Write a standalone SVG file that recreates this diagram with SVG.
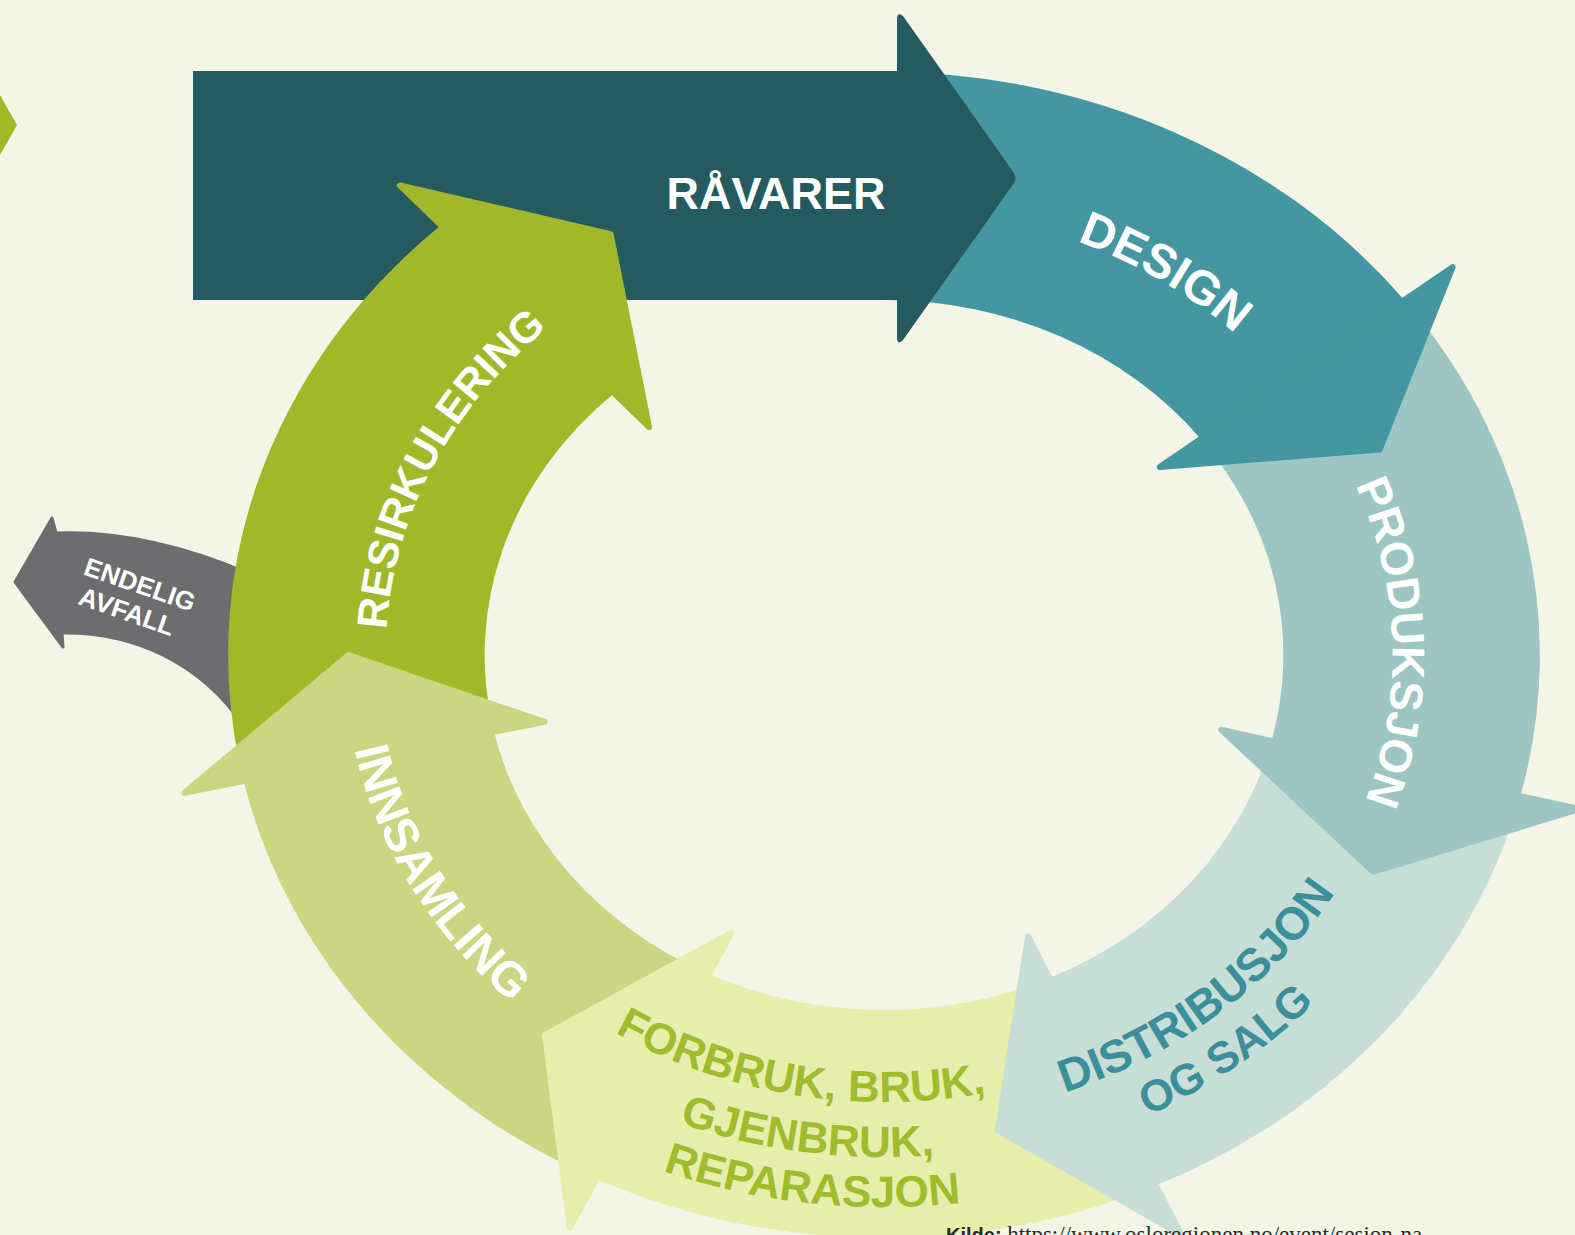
<svg xmlns="http://www.w3.org/2000/svg" width="1575" height="1235" viewBox="0 0 1575 1235">
<defs>
<style>
.lbl{font-family:'Liberation Sans',Arial,sans-serif;font-weight:700;}
.w{fill:#ffffff}
.hd{stroke-linejoin:round;stroke-width:6;vector-effect:non-scaling-stroke}
</style>
<path id="pDes" d="M651.3,257.6 A504,448 0 0 1 1387.5,674.5"/>
<path id="pPro" d="M1126.6,257.8 A508.5,452 0 0 1 1149.7,1040.4"/>
<path id="pRes" d="M472.8,905.3 A498.4,443 0 0 1 845.8,213.3"/>
<path id="pInn" d="M421.1,407.8 A540,480 0 0 0 874.6,1134.9"/>
<path id="pFor1" d="M410.2,804.9 A502.9,447 0 0 0 1267,944.7"/>
<path id="pFor2" d="M360,842.3 A564.75,502 0 0 0 1328.4,964.8"/>
<path id="pFor3" d="M313.2,872.5 A621,552 0 0 0 1381.3,985.7"/>
<path id="pDis1" d="M702.1,1092.1 A524.25,466 0 0 0 1400.8,576.5"/>
<path id="pDis2" d="M665.2,1134 A581.6,517 0 0 0 1460.1,583.9"/>
</defs>
<rect width="1575" height="1235" fill="#f3f6e7"/>

<g id="connectors">
<polygon points="0,95 17,125 0,155" fill="#a1b928"/>
</g>

<g id="endelig-avfall">
<path d="M245,572 C190,548 120,530 56,533 L52,518 L15,582 L63,647 L62,633 C130,632 200,660 245,728 Z" fill="#6d6d6f" stroke="#6d6d6f" stroke-width="3" stroke-linejoin="round"/>
<text class="lbl w" font-size="26" transform="translate(137,593) rotate(19)" text-anchor="middle">ENDELIG</text>
<text class="lbl w" font-size="26" transform="translate(124,620) rotate(19)" text-anchor="middle">AVFALL</text>
</g>

<g id="forbruk">
<g transform="translate(884,655) scale(1.125,1)" fill="#e7eeac">
<path d="M241.8,530.5 A583,583 0 0 1 -255.6,524 L-155.6,319.1 A355,355 0 0 0 147.2,323 Z"/>
</g>
</g>

<g id="distribusjon">
<g transform="translate(884,655) scale(1.125,1)" fill="#c7ded7" stroke="#c7ded7">
<path d="M565.7,141 A583,583 0 0 1 241.8,530.5 L147.2,323 A355,355 0 0 0 344.5,85.9 Z" stroke="none"/>
<polygon class="hd" points="264.2,579.6 101,475.4 128.1,281.2"/>
</g>
<text class="lbl" font-size="46" fill="#3b8f9a"><textPath href="#pDis1" startOffset="51.8%" text-anchor="middle">DISTRIBUSJON</textPath></text>
<text class="lbl" font-size="44" fill="#3b8f9a"><textPath href="#pDis2" startOffset="51.5%" text-anchor="middle">OG SALG</textPath></text>
</g>

<g id="produksjon">
<g transform="translate(884,655) scale(1.125,1)" fill="#9dc5c4" stroke="#9dc5c4">
<path d="M462.5,-354.9 A583,583 0 0 1 565.7,141 L344.5,85.9 A355,355 0 0 0 281.6,-216.1 Z" stroke="none"/>
<polygon class="hd" points="618.1,154.1 434.9,216.9 299.8,74.8"/>
</g>
<text class="lbl w" font-size="46"><textPath href="#pPro" startOffset="50%" text-anchor="middle">PRODUKSJON</textPath></text>
</g>

<g id="design">
<g transform="translate(884,655) scale(1.125,1)" fill="#4496a0" stroke="#4496a0">
<path d="M0,-583 A583,583 0 0 1 462.5,-354.9 L281.6,-216.1 A355,355 0 0 0 0,-355 Z" stroke="none"/>
<polygon class="hd" points="505.4,-387.8 440.5,-205.4 245.1,-188.1"/>
</g>
<text class="lbl w" font-size="48"><textPath href="#pDes" startOffset="52.5%" text-anchor="middle">DESIGN</textPath></text>
</g>

<g id="ravarer">
<path d="M193,71 H897 V20 Q897,11 903,16 L1014,173 Q1017,178 1014,183 L903,340 Q897,346 897,337 V300 H193 Z" fill="#245a60"/>
<text class="lbl w" font-size="45" x="776" y="209" text-anchor="middle">RÅVARER</text>
</g>

<g id="resirkulering">
<g transform="translate(884,655) scale(1.125,1)" fill="#a1b928" stroke="#a1b928">
<path d="M-569.2,126.2 A583,583 0 0 1 -393.9,-429.8 L-239.8,-261.7 A355,355 0 0 0 -346.6,76.8 Z" stroke="none"/>
<polygon class="hd" points="-430.3,-469.6 -243,-420.9 -208.8,-227.8"/>
</g>
<text class="lbl w" font-size="42.5"><textPath href="#pRes" startOffset="48.5%" text-anchor="middle">RESIRKULERING</textPath></text>
</g>

<g id="innsamling">
<g transform="translate(884,655) scale(1.125,1)" fill="#ccd682" stroke="#ccd682">
<path d="M-255.6,524 A583,583 0 0 1 -569.2,126.2 L-346.6,76.8 A355,355 0 0 0 -155.6,319.1 Z" stroke="none"/>
<polygon class="hd" points="-621.9,137.9 -476,0 -301.7,66.9"/>
</g>
<text class="lbl w" font-size="48"><textPath href="#pInn" startOffset="48.3%" text-anchor="middle">INNSAMLING</textPath></text>
</g>

<g id="forbruk-head">
<g transform="translate(884,655) scale(1.125,1)" fill="#e7eeac" stroke="#e7eeac">
<polygon class="hd" points="-279.2,572.5 -301.3,380.1 -135.5,277.7"/>
</g>
<text class="lbl" font-size="44" fill="#9fbc2c"><textPath href="#pFor1" startOffset="49.5%" text-anchor="middle">FORBRUK, BRUK,</textPath></text>
<text class="lbl" font-size="44" fill="#9fbc2c"><textPath href="#pFor2" startOffset="49.5%" text-anchor="middle">GJENBRUK,</textPath></text>
<text class="lbl" font-size="44" fill="#9fbc2c"><textPath href="#pFor3" startOffset="49.5%" text-anchor="middle">REPARASJON</textPath></text>
</g>

<g id="source">
<text x="946" y="1242" font-family="'Liberation Sans',Arial,sans-serif" font-weight="700" font-size="20" fill="#2a2a2a">Kilde: <tspan font-family="'Liberation Serif','Times New Roman',serif" font-weight="400" font-size="23">https://www.osloregionen.no/event/sesjon-na</tspan></text>
</g>
</svg>
